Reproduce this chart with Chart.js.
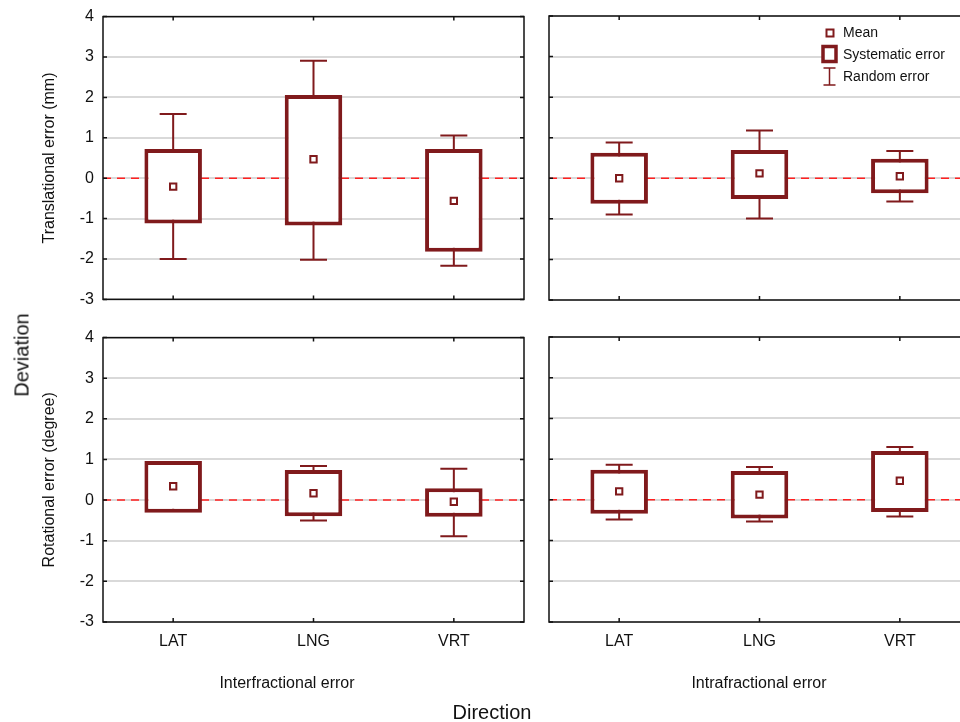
<!DOCTYPE html>
<html>
<head>
<meta charset="utf-8">
<script src="https://cdn.jsdelivr.net/npm/chart.js@4.4.1/dist/chart.umd.min.js"></script>
<style>
  body { margin: 0; background: #fff; overflow: hidden; width: 960px; height: 722px; position: relative; font-family: "Liberation Sans", Arial, sans-serif; }
  canvas { position: absolute; }
  .lbl { position: absolute; color: #111; white-space: nowrap; transform: translate(-50%, -50%); }
</style>
</head>
<body>
<canvas id="tl" width="540" height="320" style="left:0;top:-2px"></canvas>
<canvas id="tr" width="440" height="320" style="left:540px;top:0"></canvas>
<canvas id="bl" width="540" height="402" style="left:0;top:319px"></canvas>
<canvas id="br" width="440" height="402" style="left:540px;top:320px"></canvas>
<div class="lbl" style="left:22px;top:355px;font-size:20px;transform:translate(-50%,-50%) rotate(-90deg)">Deviation</div>
<div class="lbl" style="left:492px;top:712px;font-size:20px">Direction</div>
<div class="lbl" style="left:287px;top:683px;font-size:16px">Interfractional error</div>
<div class="lbl" style="left:759px;top:683px;font-size:16px">Intrafractional error</div>
<script>
const categories = ['LAT', 'LNG', 'VRT'];
const yTicks = [-3, -2, -1, 0, 1, 2, 3, 4];

// interfractional, translational (mm)
const interTransMean = [-0.21, 0.47, -0.56];
const interTransSysLow = [-1.12, -1.17, -1.82];
const interTransSysHigh = [0.72, 2.06, 0.72];
const interTransRandLow = [-2.0, -2.02, -2.17];
const interTransRandHigh = [1.59, 2.91, 1.06];

// intrafractional, translational (mm)
const intraTransMean = [0.0, 0.12, 0.05];
const intraTransSysLow = [-0.63, -0.51, -0.37];
const intraTransSysHigh = [0.63, 0.70, 0.48];
const intraTransRandLow = [-0.89, -0.99, -0.57];
const intraTransRandHigh = [0.88, 1.18, 0.67];

// interfractional, rotational (degree)
const interRotMean = [0.34, 0.17, -0.04];
const interRotSysLow = [-0.31, -0.40, -0.41];
const interRotSysHigh = [0.96, 0.74, 0.29];
const interRotRandLow = [-0.27, -0.50, -0.89];
const interRotRandHigh = [0.92, 0.84, 0.77];

// intrafractional, rotational (degree)
const intraRotMean = [0.21, 0.13, 0.47];
const intraRotSysLow = [-0.34, -0.46, -0.30];
const intraRotSysHigh = [0.74, 0.71, 1.20];
const intraRotRandLow = [-0.48, -0.53, -0.41];
const intraRotRandHigh = [0.86, 0.81, 1.30];

const DARK = '#801a1c';
const FONT = '"Liberation Sans", Arial, sans-serif';

// whiskers + zero line, drawn under the boxes
const errorBars = {
  id: 'errorBars',
  beforeDatasetsDraw(chart, args, opts) {
    const {ctx, chartArea, scales: {x, y}} = chart;
    ctx.save();
    // red dashed zero line
    const y0 = y.getPixelForValue(0);
    ctx.strokeStyle = '#ff2020';
    ctx.lineWidth = 1.5;
    ctx.setLineDash([8, 6]);
    ctx.beginPath();
    ctx.moveTo(chartArea.left, y0);
    ctx.lineTo(chartArea.right, y0);
    ctx.stroke();
    ctx.setLineDash([]);
    // random error whiskers
    ctx.strokeStyle = DARK;
    ctx.lineWidth = 2;
    opts.low.forEach((lo, i) => {
      const cx = x.getPixelForValue(i);
      const yl = y.getPixelForValue(lo);
      const yh = y.getPixelForValue(opts.high[i]);
      ctx.beginPath();
      ctx.moveTo(cx, yl); ctx.lineTo(cx, yh);
      ctx.moveTo(cx - 13.5, yl); ctx.lineTo(cx + 13.5, yl);
      ctx.moveTo(cx - 13.5, yh); ctx.lineTo(cx + 13.5, yh);
      ctx.stroke();
    });
    ctx.restore();
  }
};

// black frame with small inward ticks
const frame = {
  id: 'frame',
  afterDraw(chart) {
    const {ctx, chartArea: a, scales: {x, y}} = chart;
    ctx.save();
    ctx.strokeStyle = '#111';
    ctx.lineWidth = 1.5;
    ctx.strokeRect(a.left, a.top, a.right - a.left, a.bottom - a.top);
    ctx.beginPath();
    yTicks.forEach(v => {
      const py = y.getPixelForValue(v);
      ctx.moveTo(a.left, py); ctx.lineTo(a.left + 4, py);
      ctx.moveTo(a.right, py); ctx.lineTo(a.right - 4, py);
    });
    categories.forEach((c, i) => {
      const px = x.getPixelForValue(i);
      ctx.moveTo(px, a.top); ctx.lineTo(px, a.top + 4);
      ctx.moveTo(px, a.bottom); ctx.lineTo(px, a.bottom - 4);
    });
    ctx.stroke();
    ctx.restore();
  }
};

// legend in the upper right panel
const boxLegend = {
  id: 'boxLegend',
  afterDraw(chart) {
    const ctx = chart.ctx;
    ctx.save();
    ctx.fillStyle = '#fff';
    ctx.fillRect(282, 22, 160, 66);
    ctx.strokeStyle = DARK;
    ctx.lineWidth = 2;
    ctx.strokeRect(286.5, 29.5, 7, 7);
    ctx.lineWidth = 3.5;
    ctx.strokeRect(283, 46.5, 13, 15);
    ctx.lineWidth = 1.5;
    ctx.beginPath();
    ctx.moveTo(289.5, 68); ctx.lineTo(289.5, 85);
    ctx.moveTo(283.5, 68); ctx.lineTo(295.5, 68);
    ctx.moveTo(283.5, 85); ctx.lineTo(295.5, 85);
    ctx.stroke();
    ctx.fillStyle = '#111';
    ctx.font = '14px ' + FONT;
    ctx.textBaseline = 'middle';
    ctx.fillText('Mean', 303, 33);
    ctx.fillText('Systematic error', 303, 55);
    ctx.fillText('Random error', 303, 77);
    ctx.restore();
  }
};

function makePanel(id, o) {
  const plugins = [errorBars, frame];
  if (o.legend) plugins.push(boxLegend);
  return new Chart(document.getElementById(id), {
    type: 'bar',
    data: {
      labels: categories,
      datasets: [
        {
          type: 'line',
          label: 'Mean',
          data: o.mean,
          showLine: false,
          pointStyle: 'rect',
          pointRadius: 4.5,
          pointBorderWidth: 2,
          pointBackgroundColor: '#fff',
          pointBorderColor: DARK,
          order: 0
        },
        {
          label: 'Systematic error',
          data: o.sysLow.map((lo, i) => [lo, o.sysHigh[i]]),
          backgroundColor: '#fff',
          borderColor: DARK,
          borderWidth: 4,
          borderSkipped: false,
          barPercentage: 0.41,
          categoryPercentage: 1.0,
          order: 1
        }
      ]
    },
    options: {
      responsive: false,
      animation: false,
      layout: { padding: o.padding },
      plugins: {
        legend: { display: false },
        tooltip: { enabled: false },
        errorBars: { low: o.randLow, high: o.randHigh }
      },
      scales: {
        x: {
          grid: { display: false, drawTicks: false },
          border: { display: false },
          ticks: { display: o.xLabels, padding: 10, color: '#111', font: { family: FONT, size: 16 } },
          afterFit: s => { s.height = o.xHeight; }
        },
        y: {
          min: -3,
          max: 4,
          grid: { color: '#d9d9d9', lineWidth: 2, drawTicks: false },
          border: { display: false },
          ticks: { display: o.yLabels, stepSize: 1, padding: 9, color: '#111', font: { family: FONT, size: 16 } },
          title: {
            display: !!o.yTitle,
            text: o.yTitle || '',
            color: '#111',
            font: { family: FONT, size: 16 },
            padding: { top: 40, bottom: 0 }
          },
          afterFit: s => { s.width = o.yWidth; }
        }
      }
    },
    plugins: plugins
  });
}

makePanel('tl', {
  mean: interTransMean, sysLow: interTransSysLow, sysHigh: interTransSysHigh,
  randLow: interTransRandLow, randHigh: interTransRandHigh,
  padding: { top: 0, right: 16, bottom: 18, left: 0 },
  yWidth: 103, xHeight: 0, xLabels: false, yLabels: true,
  yTitle: 'Translational error (mm)'
});
makePanel('tr', {
  mean: intraTransMean, sysLow: intraTransSysLow, sysHigh: intraTransSysHigh,
  randLow: intraTransRandLow, randHigh: intraTransRandHigh,
  padding: { top: 16, right: 10, bottom: 20, left: 9 },
  yWidth: 0, xHeight: 0, xLabels: false, yLabels: false, legend: true
});
makePanel('bl', {
  mean: interRotMean, sysLow: interRotSysLow, sysHigh: interRotSysHigh,
  randLow: interRotRandLow, randHigh: interRotRandHigh,
  padding: { top: 0, right: 16, bottom: 59, left: 0 },
  yWidth: 103, xHeight: 40, xLabels: true, yLabels: true,
  yTitle: 'Rotational error (degree)'
});
makePanel('br', {
  mean: intraRotMean, sysLow: intraRotSysLow, sysHigh: intraRotSysHigh,
  randLow: intraRotRandLow, randHigh: intraRotRandHigh,
  padding: { top: 17, right: 10, bottom: 60, left: 9 },
  yWidth: 0, xHeight: 40, xLabels: true, yLabels: false
});
</script>
</body>
</html>
